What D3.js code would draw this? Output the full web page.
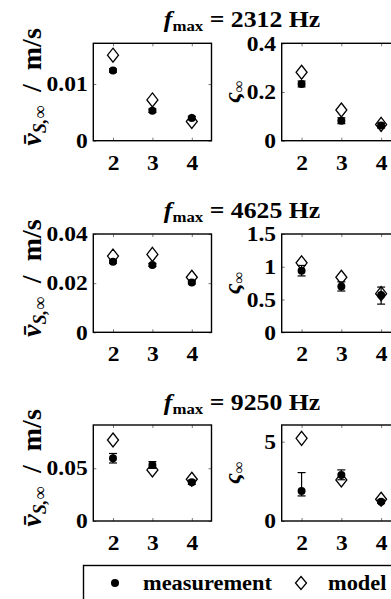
<!DOCTYPE html>
<html lang="en">
<head>
<meta charset="UTF-8">
<title>Velocity and damping vs order</title>
<style>
  body { margin: 0; background: #fff; }
  svg { display: block; font-family: "Liberation Serif", "DejaVu Serif", serif; }
</style>
</head>
<body>
<div id="chart"></div>
<script src="https://cdn.jsdelivr.net/npm/d3@7/dist/d3.min.js"></script>
<script>
const w = 391;
const h = 599;

const orders = [2, 3, 4];
const fmax = ["2312", "4625", "9250"];

// mean velocity v_S,inf in m/s, one row per fmax
const vMeas = [[0.0124, 0.0053, 0.0040], [0.0287, 0.0274, 0.0203], [0.0595, 0.0531, 0.0367]];
const vErr = [[0.0003, 0.0003, 0.0003], [0.0006, 0.0006, 0.0006], [0.0045, 0.0032, 0.002]];
const vModel = [[0.0151, 0.0072, 0.0034], [0.0310, 0.0317, 0.0224], [0.0768, 0.0484, 0.0396]];
const vMax = [0.0172, 0.04, 0.091];
const vTicks = [[0, 0.01], [0, 0.02, 0.04], [0, 0.05]];

// damping varsigma_inf
const zMeas = [[0.233, 0.082, 0.062], [0.94, 0.70, 0.57], [1.89, 2.90, 1.22]];
const zErrLo = [[0.012, 0.012, 0.01], [0.08, 0.07, 0.14], [0.31, 0.30, 0.10]];
const zErrHi = [[0.012, 0.012, 0.01], [0.08, 0.07, 0.12], [1.16, 0.32, 0.10]];
const zModel = [[0.281, 0.126, 0.067], [1.06, 0.84, 0.59], [5.21, 2.59, 1.37]];
const zMax = [0.4, 1.5, 6.05];
const zTicks = [[0, 0.2, 0.4], [0, 0.5, 1, 1.5], [0, 5]];

const rowsY = [[43.3, 140.7], [234, 332.3], [425, 521]];
const colsX = [[93.3, 211.5], [281.7, 401]];
const titleY = [27, 218, 410];
const stretch = 'scale(1.12,1)';

const svg = d3.select('#chart').append('svg')
    .attr('width', w)
    .attr('height', h);

function diamond(cx, cy, hw, hh) {
    return `M${cx},${cy - hh}L${cx + hw},${cy}L${cx},${cy + hh}L${cx - hw},${cy}Z`;
}

function panel(col, row, meas, lo, hi, model, ymax, ticks) {
    const [x0, x1] = colsX[col];
    const [y0, y1] = rowsY[row];
    const x = d3.scaleLinear().domain([1.5, 4.5]).range([x0, x1]);
    const y = d3.scaleLinear().domain([0, ymax]).range([y1, y0]);
    const g = svg.append('g');

    const tickStyle = sel => {
        sel.select('.domain').remove();
        sel.selectAll('.tick line').attr('stroke', '#555').attr('stroke-width', 0.8);
        sel.selectAll('.tick text')
            .attr('fill', '#000')
            .attr('font-size', 21)
            .attr('font-weight', 'bold')
            .attr('font-family', '"Liberation Serif", serif')
            .attr('transform', stretch);
    };

    g.append('g').attr('transform', `translate(0,${y1})`)
        .call(d3.axisBottom(x).tickValues(orders).tickSizeInner(-3).tickSizeOuter(0).tickPadding(14).tickFormat(d3.format('d')))
        .call(tickStyle);
    g.append('g').attr('transform', `translate(0,${y0})`)
        .call(d3.axisTop(x).tickValues(orders).tickSizeInner(-3).tickSizeOuter(0).tickFormat(''))
        .call(tickStyle);
    g.append('g').attr('transform', `translate(${x0},0)`)
        .call(d3.axisLeft(y).tickValues(ticks).tickSizeInner(-3).tickSizeOuter(0).tickPadding(5).tickFormat(d => String(d)))
        .call(tickStyle);
    g.append('g').attr('transform', `translate(${x1},0)`)
        .call(d3.axisRight(y).tickValues(ticks).tickSizeInner(-3).tickSizeOuter(0).tickFormat(''))
        .call(tickStyle);

    g.append('rect')
        .attr('x', x0).attr('y', y0)
        .attr('width', x1 - x0).attr('height', y1 - y0)
        .attr('fill', 'none').attr('stroke', '#000').attr('stroke-width', 1.4);

    // model (open diamonds)
    g.selectAll('path.model')
        .data(model)
        .enter()
        .append('path')
        .attr('class', 'model')
        .attr('d', (d, i) => diamond(x(orders[i]), y(d), 5.5, 7))
        .attr('fill', 'none')
        .attr('stroke', '#000')
        .attr('stroke-width', 1.3);

    // measurement error bars
    const eb = g.selectAll('g.err')
        .data(meas)
        .enter()
        .append('g')
        .attr('class', 'err')
        .attr('stroke', '#000')
        .attr('stroke-width', 1.2);
    eb.append('line')
        .attr('x1', (d, i) => x(orders[i])).attr('x2', (d, i) => x(orders[i]))
        .attr('y1', (d, i) => y(d - lo[i])).attr('y2', (d, i) => y(d + hi[i]));
    [lo, hi].forEach((arr, k) => {
        eb.append('line')
            .attr('x1', (d, i) => x(orders[i]) - 4).attr('x2', (d, i) => x(orders[i]) + 4)
            .attr('y1', (d, i) => y(k ? d + arr[i] : d - arr[i]))
            .attr('y2', (d, i) => y(k ? d + arr[i] : d - arr[i]));
    });

    // measurement dots
    g.selectAll('circle.meas')
        .data(meas)
        .enter()
        .append('circle')
        .attr('class', 'meas')
        .attr('cx', (d, i) => x(orders[i]))
        .attr('cy', d => y(d))
        .attr('r', 4)
        .attr('fill', '#000');
}

for (let r = 0; r < 3; r++) {
    panel(0, r, vMeas[r], vErr[r], vErr[r], vModel[r], vMax[r], vTicks[r]);
    panel(1, r, zMeas[r], zErrLo[r], zErrHi[r], zModel[r], zMax[r], zTicks[r]);

    // title f_max = ... Hz
    const t = svg.append('text')
        .attr('transform', `translate(242,${titleY[r]}) ${stretch}`)
        .attr('text-anchor', 'middle')
        .attr('font-size', 23)
        .attr('font-weight', 'bold');
    t.append('tspan').attr('font-style', 'italic').text('f');
    t.append('tspan').attr('font-size', 15).attr('dy', 4).text('max');
    t.append('tspan').attr('dy', -4).text(` = ${fmax[r]} Hz`);

    const cy = (rowsY[r][0] + rowsY[r][1]) / 2;

    // left y label
    const yl = svg.append('text')
        .attr('transform', `translate(41,${cy - 5}) rotate(-90)`)
        .attr('text-anchor', 'middle')
        .attr('font-size', 28)
        .attr('font-weight', 'bold');
    yl.append('tspan').attr('font-style', 'italic').text('v\u0304');
    yl.append('tspan').attr('font-size', 18).attr('font-style', 'italic').attr('dy', 5).text('S,∞');
    yl.append('tspan').attr('dy', -5).text('\u2002/\u2002m/s');

    // right y label
    const zl = svg.append('text')
        .attr('transform', `translate(240,${cy}) rotate(-90)`)
        .attr('text-anchor', 'middle')
        .attr('font-size', 24)
        .attr('font-weight', 'bold');
    zl.append('tspan').attr('font-style', 'italic').text('ς');
    zl.append('tspan').attr('font-size', 16).attr('dy', 4).text('∞');
}

// legend
const lg = svg.append('g');
lg.append('rect')
    .attr('x', 83.5).attr('y', 565.5)
    .attr('width', 330).attr('height', 60)
    .attr('fill', '#fff').attr('stroke', '#000').attr('stroke-width', 1.4);
lg.append('circle').attr('cx', 115).attr('cy', 583).attr('r', 4).attr('fill', '#000');
lg.append('path').attr('d', diamond(301, 583, 5.5, 6.5))
    .attr('fill', 'none').attr('stroke', '#000').attr('stroke-width', 1.3);
lg.append('text').attr('transform', `translate(143,590) ${stretch}`)
    .attr('font-size', 20).attr('font-weight', 'bold').text('measurement');
lg.append('text').attr('transform', `translate(328,590) ${stretch}`)
    .attr('font-size', 20).attr('font-weight', 'bold').text('model');
</script>
</body>
</html>
